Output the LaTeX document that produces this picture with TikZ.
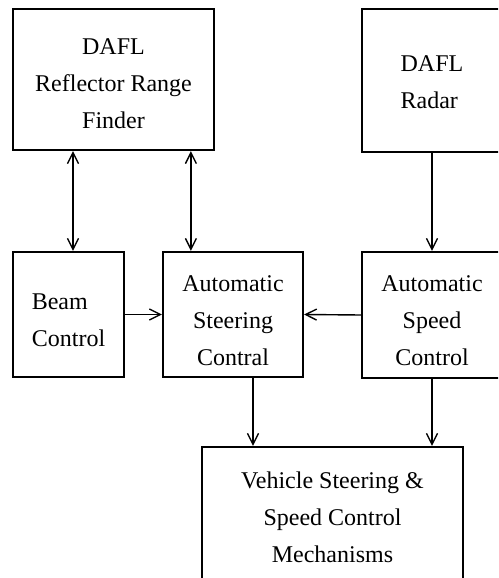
\documentclass[tikz,border=0pt]{standalone}
\usepackage{fontspec}
\setmainfont{Liberation Serif}
\usetikzlibrary{positioning, arrows.meta}

\begin{document}
\begin{tikzpicture}[x=1pt, y=-1pt, >={Straight Barb[length=11pt, width=11pt]},
  font=\fontsize{24}{37}\selectfont,
  block/.style={draw, line width=2.2pt, inner sep=0pt},
  caption/.style={align=center, inner sep=0pt},
  link/.style={line width=1.4pt}]
  \useasboundingbox (0,0) rectangle (498,578);
  \clip (0,0) rectangle (498,578);

  % top row
  \node[block, minimum width=201pt, minimum height=141pt,
    label={[caption, yshift=-4pt]center:DAFL\\Reflector Range\\Finder}] (finder) at (113.5,79.5) {};
  \node[block, minimum width=180pt, minimum height=143pt,
    label={[caption, align=left, xshift=-20pt, yshift=-2pt]center:DAFL\\Radar}] (radar) at (452,80.5) {};

  % middle row
  \node[block, minimum width=111pt, minimum height=125pt,
    label={[caption, align=left, yshift=-6pt]center:Beam\\Control}] (beam) at (68.5,314.5) {};
  \node[block, minimum width=140pt, minimum height=125pt,
    label={[caption, yshift=-6pt]center:Automatic\\Steering\\Contral}] (steer) at (233,314.5) {};
  \node[block, minimum width=180pt, minimum height=126pt,
    label={[caption, xshift=-20pt, yshift=-6pt]center:Automatic\\Speed\\Control}] (speed) at (452,315) {};

  % bottom
  \node[block, minimum width=261pt, minimum height=140pt,
    label={[caption]center:Vehicle Steering \&\\Speed Control\\Mechanisms}] (vehicle) at (332.5,517) {};

  % connections
  \draw[link, <->] ([xshift=4.5pt]beam.north) -- ([xshift=4.5pt]beam.north |- finder.south);
  \draw[link, <->] ([xshift=29pt]steer.north west) -- ([xshift=29pt]steer.north west |- finder.south);
  \draw[link, ->] ([xshift=-20pt]radar.south) -- ([xshift=-20pt]speed.north);
  \draw[link, ->] (beam.east) -- (steer.west);
  \draw[link, ->] (speed.west) -- (steer.east);
  \draw[link, ->] ([xshift=20pt]steer.south) -- ([xshift=20pt]steer.south |- vehicle.north);
  \draw[link, ->] ([xshift=-20pt]speed.south) -- ([xshift=-20pt]speed.south |- vehicle.north);
\end{tikzpicture}
\end{document}
